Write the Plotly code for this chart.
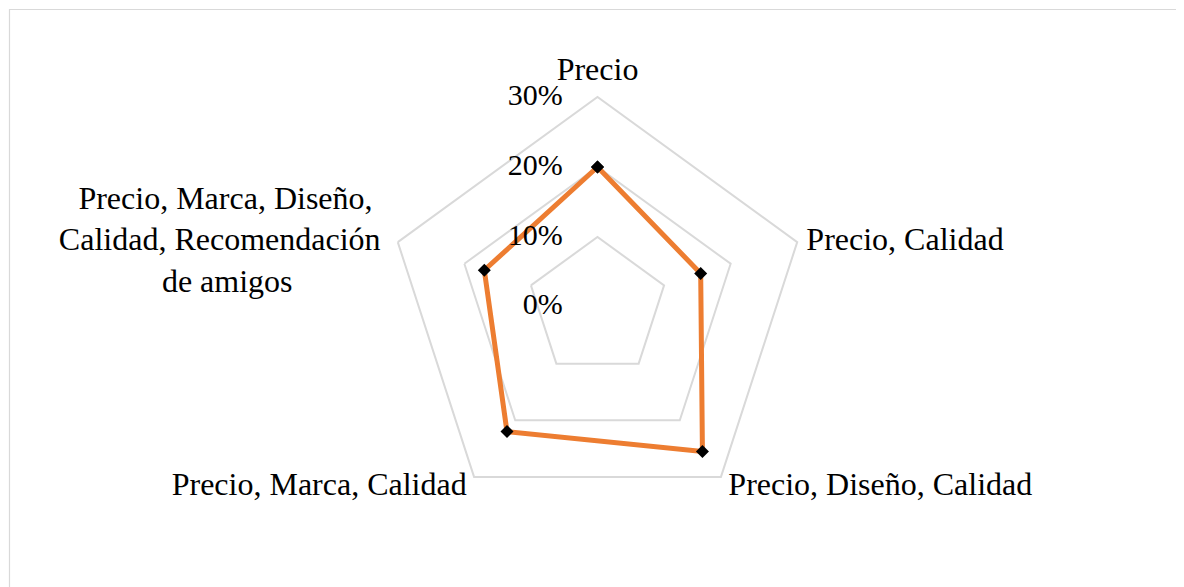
import plotly.graph_objects as go

categories = [
    "Precio",
    "Precio, Calidad",
    "Precio, Diseño, Calidad",
    "Precio, Marca, Calidad",
    "Precio, Marca, Diseño, Calidad, Recomendación de amigos",
]
category_labels = [
    "Precio",
    "Precio, Calidad",
    "Precio, Diseño, Calidad",
    "Precio, Marca, Calidad",
    "Precio, Marca, Diseño," + "\u00a0" + "<br>Calidad, Recomendación<br>de amigos" + "\u00a0" * 11,
]
values = [20, 15.5, 25.5, 22, 17]
radial_ticks = [0, 10, 20, 30]
radial_labels = ["0%", "10%", "20%", "30%"]

FONT = "Liberation Serif, Times New Roman, serif"
GRID = "#d9d9d9"
RMAX = radial_ticks[-1]
RVIEW = 32  # a little headroom so labels just outside the outer ring are kept

fig = go.Figure()
fig.add_trace(go.Scatterpolar(
    r=values + values[:1],
    theta=categories + categories[:1],
    mode="lines+markers",
    line=dict(color="#ED7D31", width=5),
    marker=dict(symbol="diamond", size=10, color="black"),
    showlegend=False, hoverinfo="r+theta",
))

# category labels just outside the outer ring (invisible markers set the text offset)
fig.add_trace(go.Scatterpolar(
    r=[RMAX, RMAX, RMAX * 1.06, RMAX * 1.06, RMAX],
    theta=categories,
    mode="markers+text",
    text=category_labels,
    textposition=["top center", "middle right", "middle right", "middle left", "middle left"],
    textfont=dict(size=32, family=FONT, color="black"),
    marker=dict(size=[13, 13, 0, 0, 26], opacity=0),
    cliponaxis=False, showlegend=False, hoverinfo="skip",
))

# radial tick labels along the first spoke
fig.add_trace(go.Scatterpolar(
    r=[t if t > 0 else 1e-3 for t in radial_ticks],
    theta=[categories[0]] * len(radial_ticks),
    mode="markers+text",
    text=radial_labels,
    textposition="middle left",
    textfont=dict(size=30, family=FONT, color="black"),
    marker=dict(size=54, opacity=0),
    cliponaxis=False, showlegend=False, hoverinfo="skip",
))

fig.update_layout(
    width=1184, height=587,
    margin=dict(l=0, r=0, t=0, b=0),
    paper_bgcolor="white",
    plot_bgcolor="white",
    font=dict(family=FONT, color="black"),
    polar=dict(
        domain=dict(x=[0.30870, 0.68708], y=[0.10903, 0.87223]),
        bgcolor="white",
        gridshape="linear",
        angularaxis=dict(
            rotation=90, direction="clockwise",
            showgrid=False, showline=False,
            ticks="", showticklabels=False,
        ),
        radialaxis=dict(
            range=[0, RVIEW], tickvals=radial_ticks[1:],
            angle=90, showline=False, ticks="", showticklabels=False,
            gridcolor=GRID, gridwidth=1.5,
        ),
    ),
    shapes=[dict(
        type="rect", xref="paper", yref="paper",
        x0=1.5 / 1184, x1=1.02, y0=-0.03, y1=1 - 1.5 / 587,
        line=dict(color=GRID, width=1.2), fillcolor="rgba(0,0,0,0)", layer="below",
    )],
)

fig.write_html("out.html")
